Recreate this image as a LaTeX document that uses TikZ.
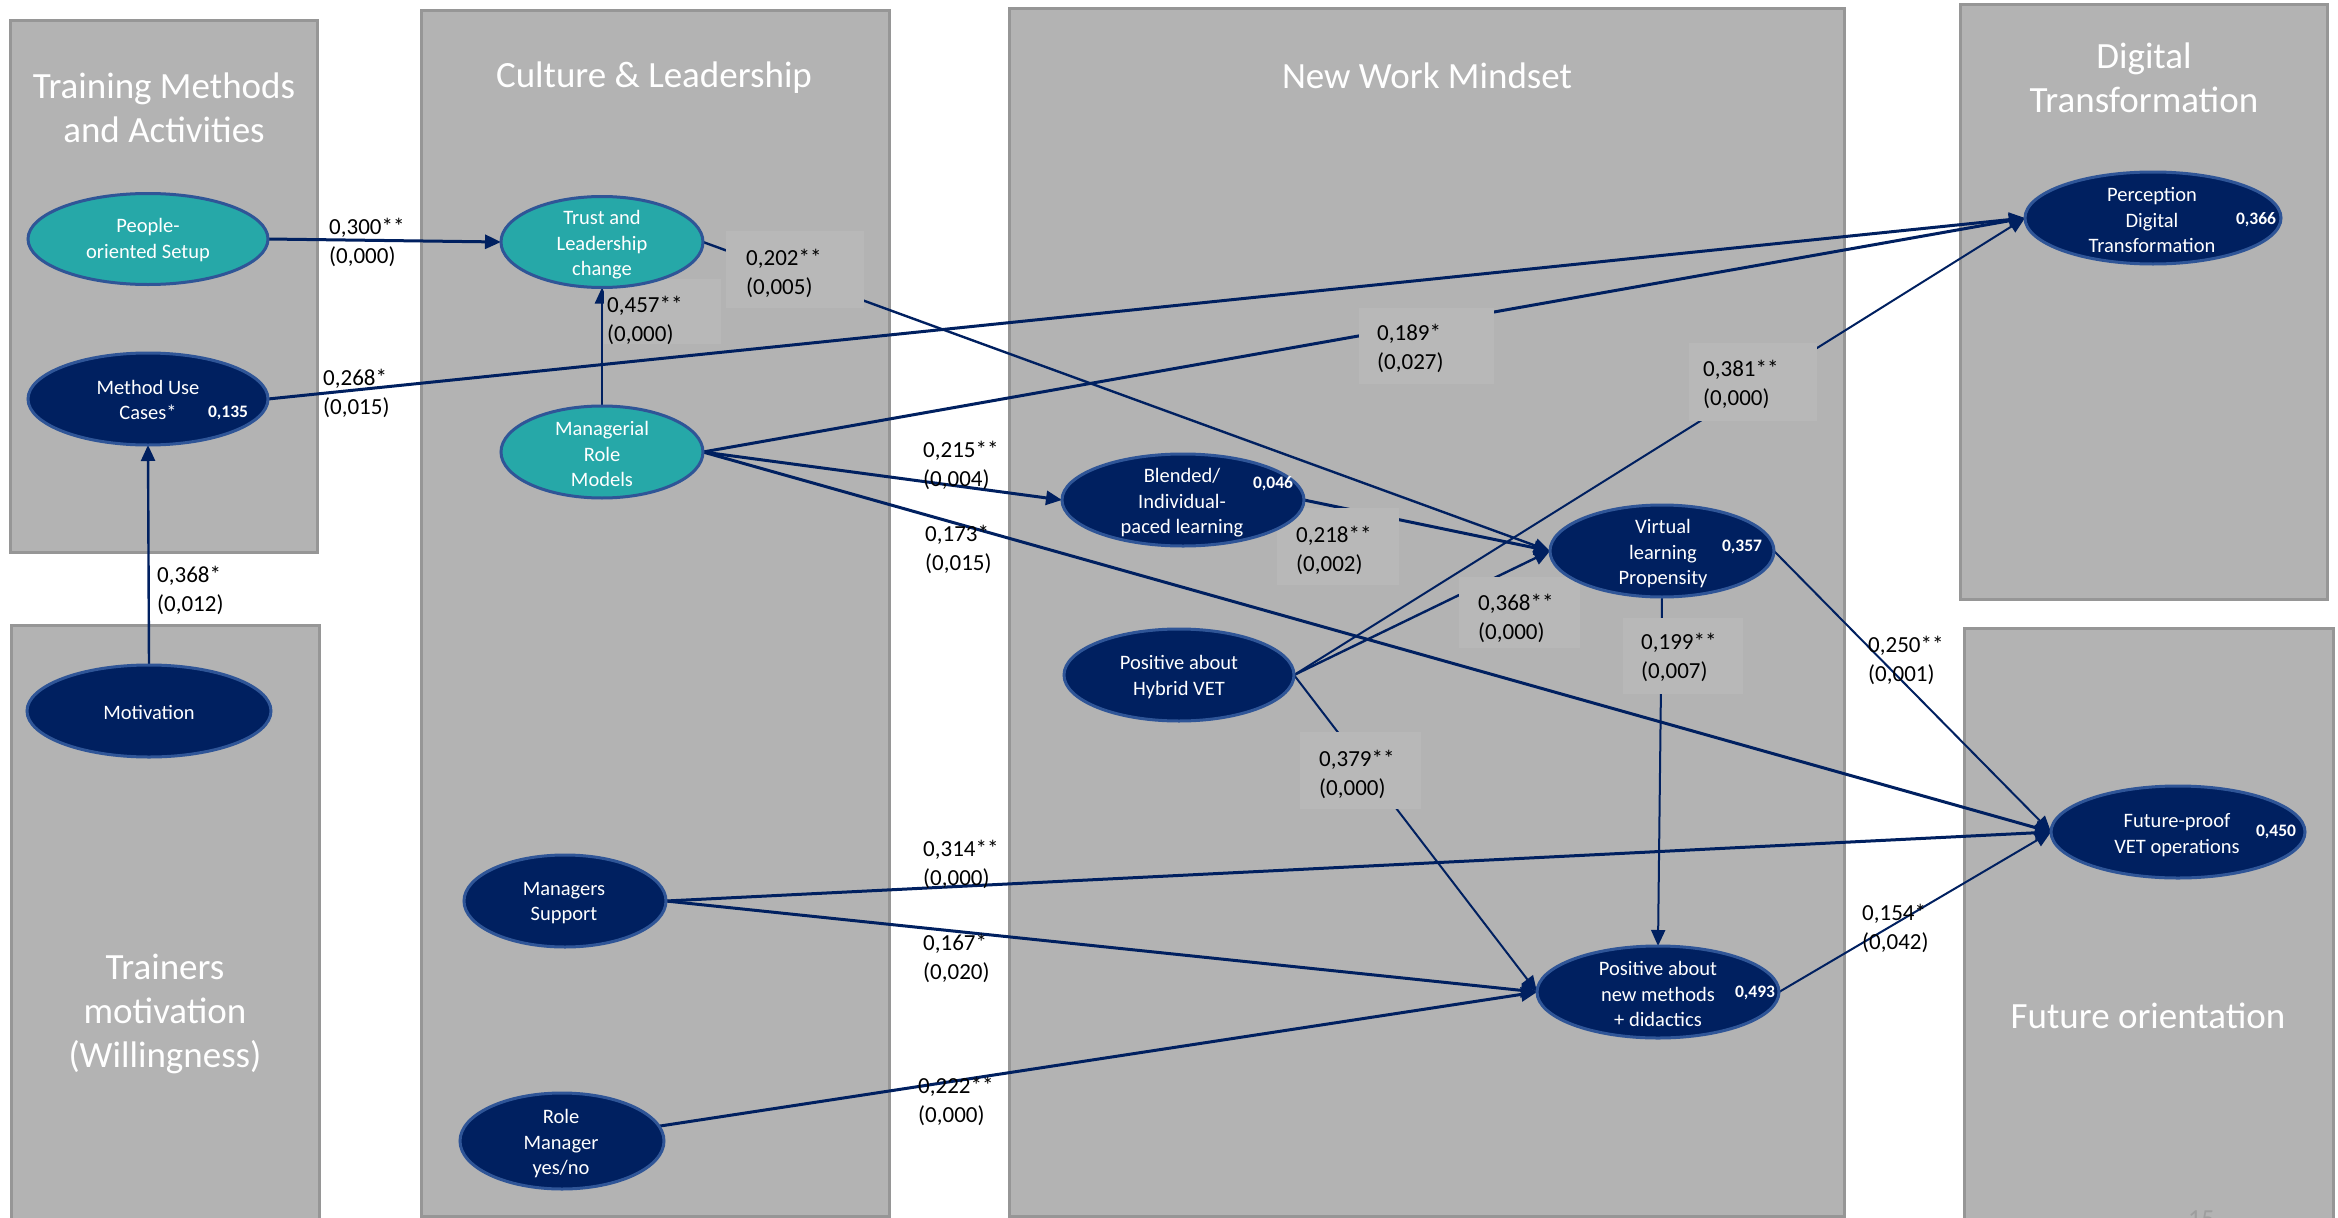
\documentclass[tikz,border=0pt]{standalone}
\usepackage{fontspec}
\setmainfont{Carlito}
\usetikzlibrary{shapes.geometric,arrows.meta}

\definecolor{panelfill}{RGB}{179,179,179}
\definecolor{panelline}{RGB}{150,150,150}
\definecolor{boxfill}{RGB}{184,184,184}
\definecolor{navyfill}{RGB}{0,32,96}
\definecolor{tealfill}{RGB}{38,168,168}
\definecolor{rimblue}{RGB}{47,85,151}
\definecolor{pagenum}{RGB}{158,158,158}

\pgfdeclarelayer{bg}
\pgfdeclarelayer{edges}
\pgfdeclarelayer{boxes}
\pgfsetlayers{bg,edges,boxes,main}

\tikzset{
  panel/.style={fill=panelfill, draw=panelline, line width=3pt},
  lbox/.style={fill=boxfill, draw=none},
  title/.style={text=white, font=\fontsize{37}{44}\selectfont, align=center, inner sep=0pt},
  construct/.style={ellipse, draw=rimblue, line width=3pt, inner sep=0pt, outer sep=0pt},
  tealnode/.style={construct, fill=tealfill},
  navynode/.style={construct, fill=navyfill},
  etext/.style={text=white, font=\fontsize{20.5}{25.5}\selectfont, align=center, inner sep=0pt},
  rsq/.style={text=white, font=\bfseries\fontsize{17.5}{20}\selectfont, inner sep=0pt},
  coef/.style={font=\fontsize{23}{29}\selectfont, align=left, anchor=west, inner sep=0pt, text=black},
  link/.style={draw=navyfill, -{Triangle[length=16pt,width=14pt]}},
  heavy/.style={line width=3pt},
  medium/.style={line width=2.4pt},
  light/.style={line width=2pt},
}

\begin{document}
\begin{tikzpicture}[x=1pt,y=-1pt]
\useasboundingbox (0,0) rectangle (2338,1218);

% ---------- group panels ----------
\begin{pgfonlayer}{bg}
  \fill[white] (0,0) rectangle (2338,1218);
  \draw[panel] (10,20) rectangle (317,552);
  \draw[panel] (11,625) rectangle (319,1232);
  \draw[panel] (421,10) rectangle (889,1216);
  \draw[panel] (1009,8) rectangle (1844,1216);
  \draw[panel] (1960,4) rectangle (2327,599);
  \draw[panel] (1964,628) rectangle (2333,1232);
\end{pgfonlayer}

\node[title] (t1) at (164,108) {Training Methods\\and Activities};
\node[title] (t2) at (654,78) {Culture \& Leadership};
\node[title] (t3) at (1427,76) {New Work Mindset};
\node[title] (t4) at (2144,78) {Digital\\Transformation};
\node[title] (t5) at (2148,1016) {Future orientation};
\node[title] (t6) at (165,1014) {Trainers\\motivation\\(Willingness)};
\node[text=pagenum, font=\fontsize{26}{30}\selectfont, inner sep=0pt, anchor=north west] (pg) at (2188,1211) {15};

% ---------- constructs ----------
\node[tealnode, minimum width=240pt, minimum height=91pt] (pos) at (148,239) {};
\node[navynode, minimum width=240pt, minimum height=92pt] (muc) at (148,399) {};
\node[tealnode, minimum width=202pt, minimum height=91pt] (tlc) at (602,242) {};
\node[tealnode, minimum width=202pt, minimum height=92pt] (mrm) at (602,452) {};
\node[navynode, minimum width=244pt, minimum height=92pt] (mot) at (149,711) {};
\node[navynode, minimum width=202pt, minimum height=92pt] (mgs) at (565,901) {};
\node[navynode, minimum width=204pt, minimum height=96pt] (rmy) at (562,1141) {};
\node[navynode, minimum width=242pt, minimum height=92pt] (bil) at (1183,500) {};
\node[navynode, minimum width=256pt, minimum height=92pt] (pdt) at (2153,218) {};
\node[navynode, minimum width=224pt, minimum height=92pt] (vlp) at (1662,551) {};
\node[navynode, minimum width=230pt, minimum height=92pt] (phv) at (1179,675) {};
\node[navynode, minimum width=242pt, minimum height=92pt] (pnm) at (1658,992) {};
\node[navynode, minimum width=254pt, minimum height=92pt] (fvo) at (2178,832) {};

\node[etext] (pos-t) at (148,240) {People-\\oriented Setup};
\node[etext] (muc-t) at (148,400) {Method Use\\Cases*};
\node[rsq] (muc-r) at (228,413) {0,135};
\node[etext] (tlc-t) at (602,245) {Trust and\\Leadership\\change};
\node[etext] (mrm-t) at (602,454) {Managerial\\Role\\Models};
\node[etext] (mot-t) at (149,712) {Motivation};
\node[etext] (mgs-t) at (564,903) {Managers\\Support};
\node[etext] (rmy-t) at (561,1144) {Role\\Manager\\yes/no};
\node[etext] (bil-t) at (1182,503) {Blended/\\Individual-\\paced learning};
\node[rsq] (bil-r) at (1273,484) {0,046};
\node[etext] (vlp-t) at (1663,554) {Virtual\\learning\\Propensity};
\node[rsq] (vlp-r) at (1742,547) {0,357};
\node[etext] (phv-t) at (1179,677) {Positive about\\Hybrid VET};
\node[etext] (pdt-t) at (2152,220) {Perception\\Digital\\Transformation};
\node[rsq] (pdt-r) at (2256,220) {0,366};
\node[etext] (pnm-t) at (1658,994) {Positive about\\new methods\\+ didactics};
\node[rsq] (pnm-r) at (1755,993) {0,493};
\node[etext] (fvo-t) at (2177,835) {Future-proof\\VET operations};
\node[rsq] (fvo-r) at (2276,832) {0,450};

% ---------- paths ----------
\begin{pgfonlayer}{edges}
  \draw[link,heavy]  (pos.east) -- (tlc.west);
  \draw[link,heavy]  (muc.east) -- (pdt.west);
  \draw[link,medium] (mot.north) -- (muc.south);
  \draw[link,medium] (mrm.north) -- (tlc.south);
  \draw[link,heavy]  (mrm.east) -- (pdt.west);
  \draw[link,heavy]  (mrm.east) -- (bil.west);
  \draw[link,heavy]  (mrm.east) -- (fvo.west);
  \draw[link,medium] (tlc.east) -- (vlp.west);
  \draw[link,heavy]  (bil.east) -- (vlp.west);
  \draw[link,medium] (phv.east) -- (vlp.west);
  \draw[link,light]  (phv.east) -- (pdt.west);
  \draw[link,light]  (phv.east) -- (pnm.west);
  \draw[link,light]  (vlp.south) -- (pnm.north);
  \draw[link,light]  (vlp.east) -- (fvo.west);
  \draw[link,heavy]  (mgs.east) -- (fvo.west);
  \draw[link,heavy]  (mgs.east) -- (pnm.west);
  \draw[link,heavy]  (rmy) -- (pnm.west);
  \draw[link,light]  (pnm.east) -- (fvo.west);
\end{pgfonlayer}

% ---------- coefficient backgrounds ----------
\begin{pgfonlayer}{boxes}
  \fill[lbox] (604,279) rectangle (721,344);
  \fill[lbox] (726,231) rectangle (864,308);
  \fill[lbox] (1359,308) rectangle (1494,384);
  \fill[lbox] (1689,343) rectangle (1817,421);
  \fill[lbox] (1277,508) rectangle (1399,585);
  \fill[lbox] (1459,577) rectangle (1580,648);
  \fill[lbox] (1623,618) rectangle (1743,694);
  \fill[lbox] (1300,732) rectangle (1421,809);
\end{pgfonlayer}

% ---------- path coefficients ----------
\node[coef] (c01) at (329,242) {0,300**\\(0,000)};
\node[coef] (c02) at (323,393) {0,268*\\(0,015)};
\node[coef] (c03) at (157,590) {0,368*\\(0,012)};
\node[coef] (c04) at (607,320) {0,457**\\(0,000)};
\node[coef] (c05) at (1377,348) {0,189*\\(0,027)};
\node[coef] (c06) at (923,465) {0,215**\\(0,004)};
\node[coef] (c07) at (925,549) {0,173*\\(0,015)};
\node[coef] (c08) at (746,273) {0,202**\\(0,005)};
\node[coef] (c09) at (1703,384) {0,381**\\(0,000)};
\node[coef] (c10) at (1296,550) {0,218**\\(0,002)};
\node[coef] (c11) at (1478,618) {0,368**\\(0,000)};
\node[coef] (c12) at (1641,657) {0,199**\\(0,007)};
\node[coef] (c13) at (1868,660) {0,250**\\(0,001)};
\node[coef] (c14) at (1319,774) {0,379**\\(0,000)};
\node[coef] (c15) at (923,864) {0,314**\\(0,000)};
\node[coef] (c16) at (923,958) {0,167*\\(0,020)};
\node[coef] (c17) at (918,1101) {0,222**\\(0,000)};
\node[coef] (c18) at (1862,928) {0,154*\\(0,042)};
\end{tikzpicture}
\end{document}
